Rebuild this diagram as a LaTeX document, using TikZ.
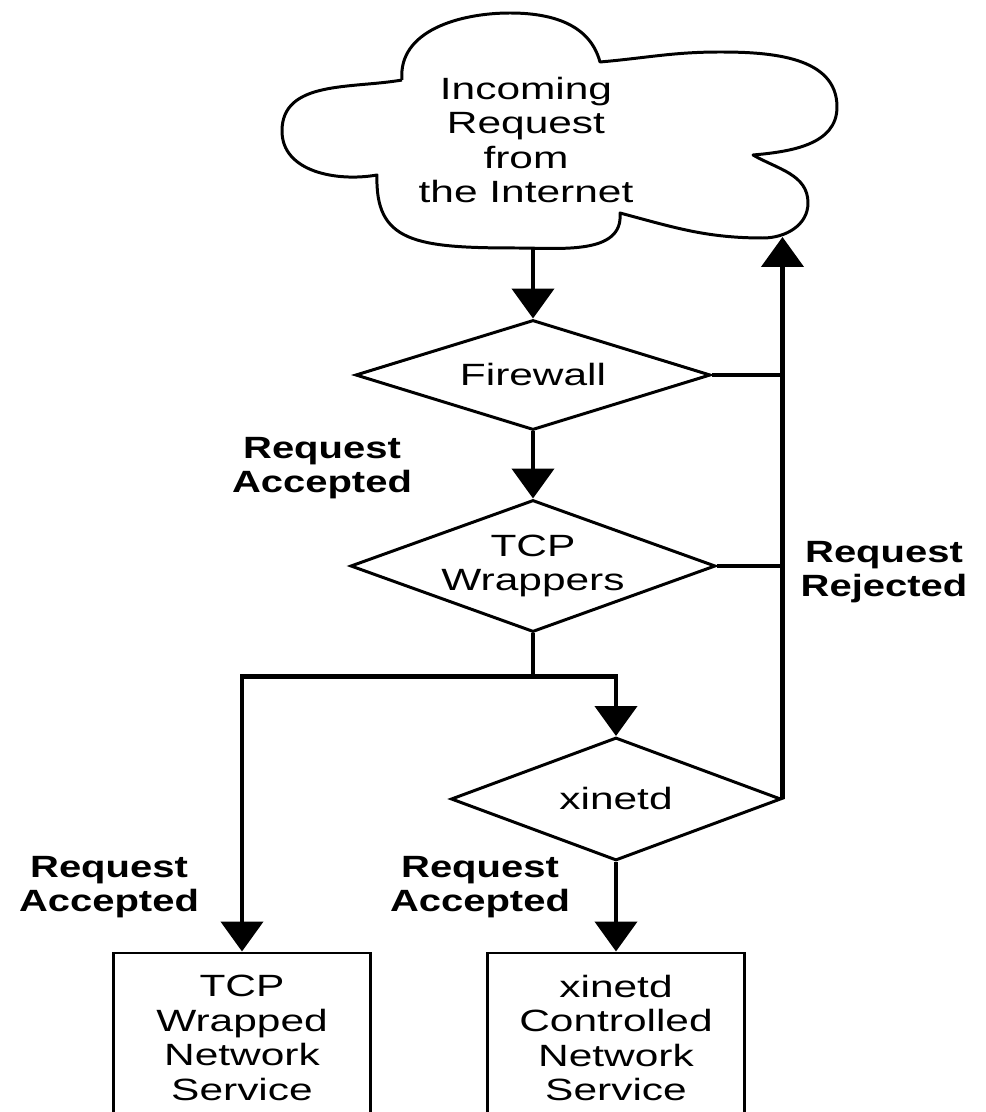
\documentclass[tikz,border=0pt]{standalone}
\usepackage{fontspec}
\setmainfont{Liberation Sans}[FakeStretch=1.38]
\newfontfamily\notefont{Liberation Sans}[FakeStretch=1.30]
\usetikzlibrary{arrows.meta,shapes.geometric}

\tikzset{
  decision/.style={draw, line width=1.7pt, diamond, inner sep=0pt, align=center},
  service/.style={draw, line width=1.7pt, rectangle, minimum width=5.15cm, minimum height=3.4cm, align=center},
  flow/.style={line width=2.6pt, -{Triangle[length=0.6cm,width=0.84cm]}},
  link/.style={line width=2.6pt},
  note/.style={align=center, font=\notefont\bfseries\fontsize{17.5}{19.6}\selectfont}
}

\begin{document}
\begin{tikzpicture}[font=\fontsize{17.5}{19.6}\selectfont]
  \useasboundingbox (0,0) rectangle (19.72,22.24);
  \clip (0,0) rectangle (19.72,22.24);
  % the cloud
  \draw[line width=1.7pt, line join=round] (8.04,20.64) to[out=95,in=180] (10.20,21.98) to[out=0,in=105] (12.00,21.00)
       to[out=5,in=180] (14.40,21.20) to[out=0,in=90] (16.74,20.10) to[out=-90,in=5] (15.06,19.14)
       to[out=-30,in=90] (16.16,18.18) to[out=-90,in=0] (15.26,17.48) to[out=180,in=-15] (12.40,17.98)
       to[out=-85,in=0] (10.34,17.28) .. controls (8.30,17.28) and (7.50,17.40) .. (7.54,18.74)
       to[out=190,in=-90] (5.64,19.62) to[out=90,in=190] (8.04,20.64);
  \node (incoming) at (10.52,19.44) [align=center] {Incoming\\Request\\from\\the Internet};
  \coordinate (cloudbot) at (10.66,17.28);
  \coordinate (cloudrej) at (15.62,17.50);

  % checks
  \node[decision, aspect=3.2, minimum width=7.10cm, minimum height=2.20cm] (firewall) at (10.66,14.74) {Firewall};
  \node[decision, aspect=2.8, minimum width=7.30cm, minimum height=2.64cm] (tcpwrap)  at (10.66,10.92) {TCP\\Wrappers};
  \node[decision, aspect=2.7, minimum width=6.60cm, minimum height=2.46cm] (xinetd)   at (12.32, 6.26) {xinetd};

  % services
  \node[service] (tcpsvc)    at ( 4.84, 1.48) {TCP\\Wrapped\\Network\\Service};
  \node[service] (xinetdsvc) at (12.32, 1.48) {xinetd\\Controlled\\Network\\Service};

  % connectors
  \draw[flow] (cloudbot) -- (firewall.north);
  \draw[flow] (firewall.south) -- (tcpwrap.north);
  \draw[link] (tcpwrap.south) -- ++(0,-0.86) coordinate (split);
  \draw[flow] (split) -| (xinetd.north);
  \draw[flow] (split) -| (tcpsvc.north);
  \draw[flow] (xinetd.south) -- (xinetdsvc.north);
  \draw[flow] (xinetd.east) -- (xinetd.east |- cloudrej);
  \draw[link] (firewall.east) -- (firewall.east -| xinetd.east);
  \draw[link] (tcpwrap.east) -- (tcpwrap.east -| xinetd.east);

  % labels
  \node[note] (accfw)  at ( 6.44,12.88) {Request\\Accepted};
  \node[note] (reject) at (17.68,10.80) {Request\\Rejected};
  \node[note] (acctcp) at ( 2.18, 4.50) {Request\\Accepted};
  \node[note] (accxin) at ( 9.60, 4.50) {Request\\Accepted};
\end{tikzpicture}
\end{document}
